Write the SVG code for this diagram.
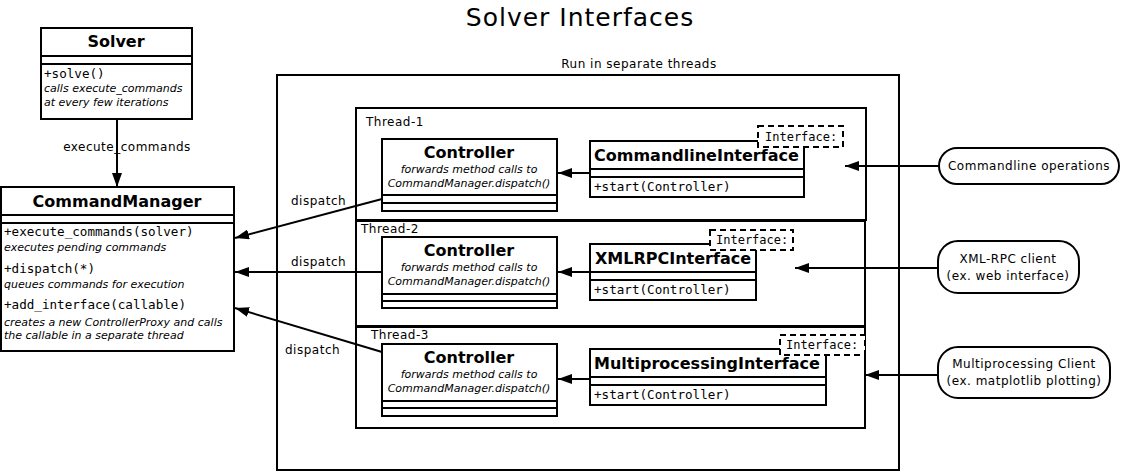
<svg xmlns="http://www.w3.org/2000/svg" width="1121" height="474" viewBox="0 0 1121 474">
<style>
.box{fill:#fff;stroke:#000;stroke-width:2}
.dash{fill:#fff;stroke:#000;stroke-width:2;stroke-dasharray:6,4}
.ln{stroke:#000;stroke-width:2;fill:none}
.t{font-family:"DejaVu Sans","Liberation Sans",sans-serif;fill:#000}
.title{font-size:25px;letter-spacing:1px}
.lbl{font-size:12px;letter-spacing:0.5px}
.cls{font-size:16px;font-weight:bold}
.mono{font-family:"DejaVu Sans Mono","Liberation Mono",monospace;font-size:12.6px;fill:#000}
.tmpl{font-family:"DejaVu Sans Mono","Liberation Mono",monospace;font-size:12px;fill:#000}
.it{font-size:11px;font-style:italic}
.mid{text-anchor:middle}
</style>
<defs>
<marker id="ah" viewBox="0 0 14 10" refX="14" refY="5" markerWidth="14" markerHeight="10" markerUnits="userSpaceOnUse" orient="auto">
<path d="M0,0 L14,5 L0,10 Z" fill="#000"/>
</marker>
</defs>
<rect width="1121" height="474" fill="#fff"/>
<text class="t title mid" x="580" y="26">Solver Interfaces</text>

<g id="threads-frame">
<rect class="box" x="277" y="75" width="622" height="395"/>
<text class="t lbl mid" x="639" y="68">Run in separate threads</text>
</g>

<g id="thread-1">
<rect class="box" x="356" y="108" width="510" height="112"/>
<text class="t lbl" x="366" y="126">Thread-1</text>
</g>
<g id="thread-2">
<rect class="box" x="356" y="221" width="509" height="105"/>
<text class="t lbl" x="361" y="233">Thread-2</text>
</g>
<g id="thread-3">
<rect class="box" x="356" y="327" width="509" height="101"/>
<text class="t lbl" x="371" y="339">Thread-3</text>
</g>

<g id="solver">
<rect class="box" x="41" y="28" width="151" height="91"/>
<line class="ln" x1="41" y1="56" x2="192" y2="56"/>
<line class="ln" x1="41" y1="64" x2="192" y2="64"/>
<text class="t cls mid" x="116" y="47">Solver</text>
<text class="mono" x="44" y="78">+solve()</text>
<text class="t it" x="44" y="92">calls execute_commands</text>
<text class="t it" x="44" y="106">at every few iterations</text>
</g>

<g id="command-manager">
<rect class="box" x="1" y="187" width="233" height="164"/>
<line class="ln" x1="1" y1="215" x2="234" y2="215"/>
<line class="ln" x1="1" y1="223" x2="234" y2="223"/>
<text class="t cls mid" x="117" y="207">CommandManager</text>
<text class="mono" x="4" y="236">+execute_commands(solver)</text>
<text class="t it" x="4" y="251">executes pending commands</text>
<text class="mono" x="4" y="273">+dispatch(*)</text>
<text class="t it" x="4" y="288">queues commands for execution</text>
<text class="mono" x="4" y="309">+add_interface(callable)</text>
<text class="t it" x="4" y="326">creates a new ControllerProxy and calls</text>
<text class="t it" x="4" y="339">the callable in a separate thread</text>
</g>

<g id="controller-1">
<rect class="box" x="382" y="139" width="175" height="72"/>
<line class="ln" x1="382" y1="195" x2="557" y2="195"/>
<line class="ln" x1="382" y1="203" x2="557" y2="203"/>
<text class="t cls mid" x="469" y="158">Controller</text>
<text class="t it mid" x="469" y="173">forwards method calls to</text>
<text class="t it mid" x="469" y="187">CommandManager.dispatch()</text>
</g>
<g id="controller-2">
<rect class="box" x="382" y="237" width="175" height="71"/>
<line class="ln" x1="382" y1="294" x2="557" y2="294"/>
<line class="ln" x1="382" y1="301" x2="557" y2="301"/>
<text class="t cls mid" x="469" y="256">Controller</text>
<text class="t it mid" x="469" y="271">forwards method calls to</text>
<text class="t it mid" x="469" y="285">CommandManager.dispatch()</text>
</g>
<g id="controller-3">
<rect class="box" x="382" y="344" width="175" height="72"/>
<line class="ln" x1="382" y1="401" x2="557" y2="401"/>
<line class="ln" x1="382" y1="408" x2="557" y2="408"/>
<text class="t cls mid" x="469" y="363">Controller</text>
<text class="t it mid" x="469" y="378">forwards method calls to</text>
<text class="t it mid" x="469" y="392">CommandManager.dispatch()</text>
</g>

<g id="commandline-interface">
<rect class="box" x="590" y="141" width="214" height="56"/>
<line class="ln" x1="590" y1="169" x2="804" y2="169"/>
<line class="ln" x1="590" y1="177" x2="804" y2="177"/>
<text class="t cls" x="594" y="161">CommandlineInterface</text>
<text class="mono" x="594" y="191">+start(Controller)</text>
<rect class="dash" x="758" y="126" width="85" height="21"/>
<text class="tmpl" x="765" y="141">Interface:</text>
</g>
<g id="xmlrpc-interface">
<rect class="box" x="590" y="244" width="166" height="56"/>
<line class="ln" x1="590" y1="272" x2="756" y2="272"/>
<line class="ln" x1="590" y1="280" x2="756" y2="280"/>
<text class="t cls" x="595" y="264">XMLRPCInterface</text>
<text class="mono" x="594" y="294">+start(Controller)</text>
<rect class="dash" x="710" y="230" width="83" height="20"/>
<text class="tmpl" x="716" y="244">Interface:</text>
</g>
<g id="multiprocessing-interface">
<rect class="box" x="590" y="349" width="236" height="56"/>
<line class="ln" x1="590" y1="377" x2="826" y2="377"/>
<line class="ln" x1="590" y1="385" x2="826" y2="385"/>
<text class="t cls" x="594" y="369">MultiprocessingInterface</text>
<text class="mono" x="594" y="399">+start(Controller)</text>
<rect class="dash" x="780" y="335" width="85" height="20"/>
<text class="tmpl" x="786" y="349">Interface:</text>
</g>

<g id="commandline-operations">
<rect class="box" x="939" y="148" width="180" height="36" rx="18"/>
<text class="t lbl mid" x="1029" y="170">Commandline operations</text>
</g>
<g id="xmlrpc-client">
<rect class="box" x="938" y="241" width="141" height="52" rx="20"/>
<text class="t lbl mid" x="1008" y="263">XML-RPC client</text>
<text class="t lbl mid" x="1008" y="280">(ex. web interface)</text>
</g>
<g id="multiprocessing-client">
<rect class="box" x="938" y="347" width="172" height="51" rx="20"/>
<text class="t lbl mid" x="1024" y="368">Multiprocessing Client</text>
<text class="t lbl mid" x="1024" y="385">(ex. matplotlib plotting)</text>
</g>

<g id="connectors">
<line class="ln" x1="117" y1="119" x2="117" y2="187" marker-end="url(#ah)"/>
<text class="t lbl mid" x="127" y="151">execute_commands</text>
<line class="ln" x1="382" y1="199" x2="235" y2="238" marker-end="url(#ah)"/>
<text class="t lbl" x="291" y="205">dispatch</text>
<line class="ln" x1="382" y1="272" x2="235" y2="272" marker-end="url(#ah)"/>
<text class="t lbl" x="291" y="266">dispatch</text>
<line class="ln" x1="382" y1="352" x2="235" y2="308" marker-end="url(#ah)"/>
<text class="t lbl" x="285" y="354">dispatch</text>
<line class="ln" x1="590" y1="173" x2="558" y2="173" marker-end="url(#ah)"/>
<line class="ln" x1="590" y1="272" x2="558" y2="272" marker-end="url(#ah)"/>
<line class="ln" x1="590" y1="379" x2="558" y2="379" marker-end="url(#ah)"/>
<line class="ln" x1="939" y1="166" x2="845" y2="166" marker-end="url(#ah)"/>
<line class="ln" x1="938" y1="268" x2="795" y2="268" marker-end="url(#ah)"/>
<line class="ln" x1="938" y1="375" x2="865" y2="375" marker-end="url(#ah)"/>
</g>
</svg>
